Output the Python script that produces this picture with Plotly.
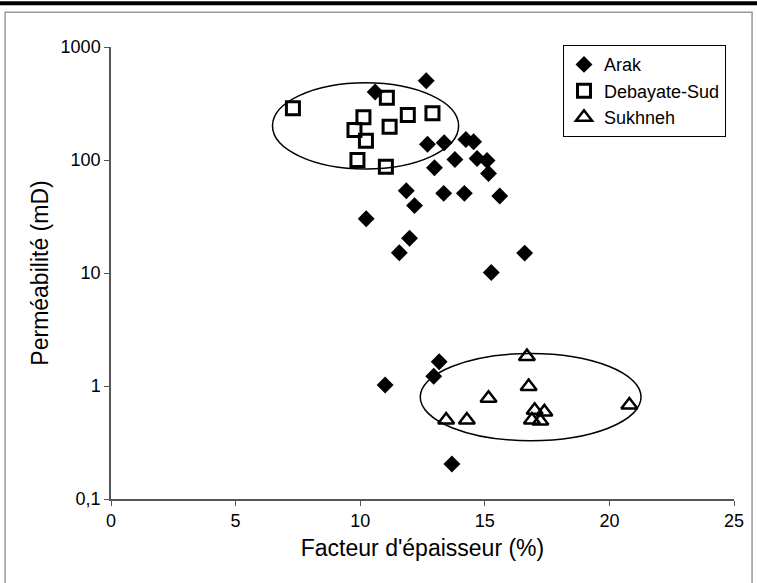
import plotly.graph_objects as go

arak_x = [12.65, 10.6, 12.7, 13.37, 14.24, 14.55, 13.8, 14.69, 15.09, 15.15, 12.98, 11.85,
          13.35, 14.18, 15.6, 12.18, 10.24, 11.98, 11.57, 15.26, 16.6, 13.17, 12.95, 13.68, 11.0]
arak_y = [502, 400, 138, 142, 152, 145, 101, 103, 99, 76, 85.5, 53.5,
          50.7, 50.7, 48, 39.5, 30.2, 20.3, 15.1, 10.1, 15, 1.64, 1.22, 0.204, 1.02]

deb_x = [7.3, 11.07, 10.13, 11.91, 12.9, 11.18, 9.77, 10.23, 9.89, 11.03]
deb_y = [287, 356, 239, 250, 259, 197, 184, 148, 100, 87]

suk_x = [16.69, 16.76, 15.15, 13.45, 14.28, 17.39, 17.0, 16.89, 17.23, 20.8]
suk_y = [1.82, 0.99, 0.78, 0.50, 0.50, 0.59, 0.61, 0.50, 0.49, 0.68]

y_tickvals = [0.1, 1, 10, 100, 1000]
y_ticktext = ["0,1", "1", "10", "100", "1000"]
x_tickvals = [0, 5, 10, 15, 20, 25]

fig = go.Figure()
fig.add_trace(go.Scatter(x=arak_x, y=arak_y, mode="markers", name="Arak",
                         marker=dict(symbol="diamond", size=13, color="black")))
fig.add_trace(go.Scatter(x=deb_x, y=deb_y, mode="markers", name="Debayate-Sud",
                         marker=dict(symbol="square-open", size=13, color="black",
                                     line=dict(width=3, color="black"))))
fig.add_trace(go.Scatter(x=suk_x, y=suk_y, mode="markers", name="Sukhneh",
                         marker=dict(symbol="triangle-up-open", size=14, color="black",
                                     line=dict(width=2.5, color="black"))))

# ellipses
fig.add_shape(type="circle", xref="x", yref="y", x0=6.48, x1=13.95, y0=83.2, y1=483,
              line=dict(color="black", width=1.5))
fig.add_shape(type="circle", xref="x", yref="y", x0=12.41, x1=21.27, y0=0.328, y1=1.94,
              line=dict(color="black", width=1.5))

# outer frame and top rule
fig.add_shape(type="rect", xref="paper", yref="paper", x0=-0.170, x1=1.029, y0=-0.2, y1=1.077,
              line=dict(color="#999999", width=1.5), layer="below")
fig.add_shape(type="line", xref="paper", yref="paper", x0=-0.2, x1=1.1, y0=1.097, y1=1.097,
              line=dict(color="black", width=4))

fig.update_layout(
    width=757, height=583,
    margin=dict(l=111, r=23, t=47, b=84),
    paper_bgcolor="white", plot_bgcolor="white",
    font=dict(family="Liberation Sans, Arial, sans-serif", color="black"),
    showlegend=True,
    legend=dict(x=0.7255, y=1.004, xanchor="left", yanchor="top",
                bordercolor="black", borderwidth=1, bgcolor="white",
                font=dict(size=18), itemwidth=30, tracegroupgap=0),
    xaxis=dict(range=[0, 25], tickvals=x_tickvals, showgrid=False, zeroline=False,
               showline=True, linecolor="#555555", linewidth=1.5,
               ticks="outside", ticklen=5, tickcolor="#555555",
               tickfont=dict(size=18),
               title=dict(text="Facteur d'épaisseur (%)", font=dict(size=23), standoff=10)),
    yaxis=dict(type="log", range=[-1, 3], tickvals=y_tickvals, ticktext=y_ticktext,
               showgrid=False, zeroline=False, showline=True, linecolor="#555555", linewidth=1.5,
               ticks="outside", ticklen=5, tickcolor="#555555",
               tickfont=dict(size=18),
               title=dict(text="Perméabilité (mD)", font=dict(size=23), standoff=6)),
)

fig.write_html("out.html", config={"displayModeBar": False},
               post_script="document.body.style.margin='0';document.body.style.overflow='hidden';")
